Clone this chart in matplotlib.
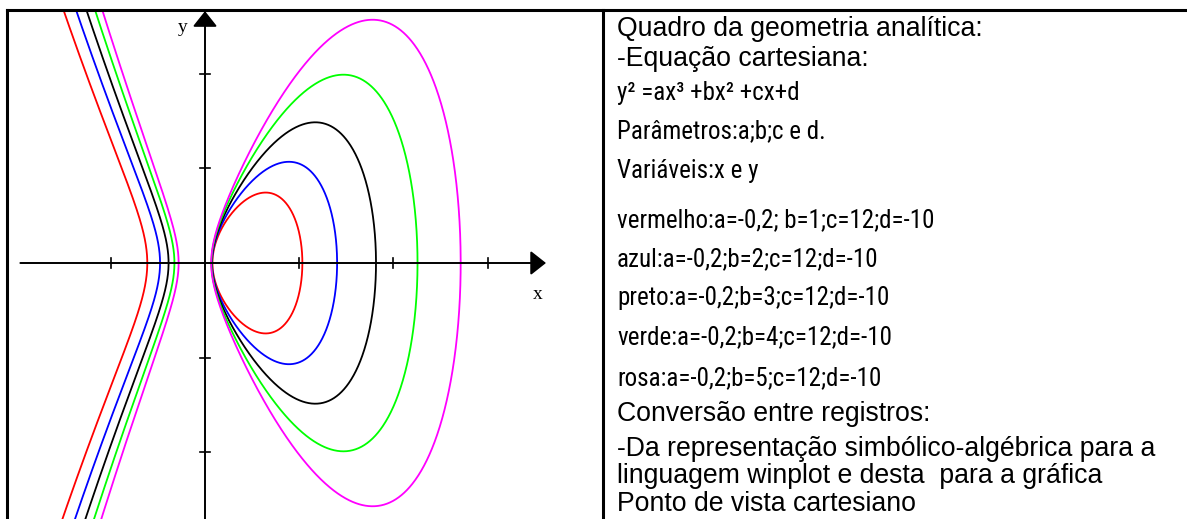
import numpy as np
import matplotlib
matplotlib.use("Agg")
import matplotlib.pyplot as plt
from matplotlib import font_manager
from matplotlib.lines import Line2D

# parameters of y^2 = a x^3 + b x^2 + c x + d (one curve per colour)
names = ["vermelho", "azul", "preto", "verde", "rosa"]
colors = ["#ff0000", "#0000ff", "#000000", "#00ff00", "#ff00ff"]
a_vals = [-0.2, -0.2, -0.2, -0.2, -0.2]
b_vals = [1, 2, 3, 4, 5]
c_vals = [12, 12, 12, 12, 12]
d_vals = [-10, -10, -10, -10, -10]

x_ticks = [-10, 10, 20, 30]
y_ticks = [-20, -10, 10, 20]

lines_text = [
    ("Quadro da geometria analítica:", "n"),
    ("-Equação cartesiana:", "n"),
    ("y² =ax³ +bx² +cx+d", "c"),
    ("Parâmetros:a;b;c e d.", "c"),
    ("Variáveis:x e y", "c"),
    ("vermelho:a=-0,2; b=1;c=12;d=-10", "c"),
    ("azul:a=-0,2;b=2;c=12;d=-10", "c"),
    ("preto:a=-0,2;b=3;c=12;d=-10", "c"),
    ("verde:a=-0,2;b=4;c=12;d=-10", "c"),
    ("rosa:a=-0,2;b=5;c=12;d=-10", "c"),
    ("Conversão entre registros:", "n"),
    ("-Da representação simbólico-algébrica para a", "n"),
    ("linguagem winplot e desta  para a gráfica", "n"),
    ("Ponto de vista cartesiano", "n"),
]
baselines = [36, 66, 100, 138, 178, 227, 266, 305, 344, 385, 421, 456, 483, 511]

W, H = 1187, 519
fig = plt.figure(figsize=(W / 100, H / 100), dpi=100)

# pixel -> data mapping of the graph window
x0px, y0px, sx, sy = 205, 263, 9.42, 9.47
L, R, T, B = 8, 603, 10, 519
ax = fig.add_axes([L / W, 0, (R - L) / W, (B - T) / H])
ax.set_xlim((L - x0px) / sx, (R - x0px) / sx)
ax.set_ylim((y0px - B) / sy, (y0px - T) / sy)
ax.axis("off")

xmin, xmax = ax.get_xlim()
ymin, ymax = ax.get_ylim()

for a, b, c, d, col in zip(a_vals, b_vals, c_vals, d_vals, colors):
    poly = np.poly1d([a, b, c, d])
    r = np.sort(np.roots([a, b, c, d]).real)
    t = np.linspace(0, np.pi, 600)
    # right oval
    xo = r[1] + (r[2] - r[1]) * (1 - np.cos(t)) / 2
    yo = np.sqrt(np.clip(poly(xo), 0, None))
    ax.plot(np.r_[xo, xo[::-1]], np.r_[yo, -yo[::-1]], color=col, lw=1.3)
    # left branch
    s = np.linspace(0, 1, 800)
    xl = r[0] - (r[0] - (xmin - 5)) * s ** 2
    yl = np.sqrt(np.clip(poly(xl), 0, None))
    ax.plot(np.r_[xl[::-1], xl], np.r_[yl[::-1], -yl], color=col, lw=1.3)

# axes with arrows
arr = dict(arrowstyle="-|>,head_length=0.95,head_width=0.75", lw=1.4,
           color="k", mutation_scale=10, shrinkA=0, shrinkB=0)
ax.annotate("", xy=(36.2, 0), xytext=(-19.6, 0), arrowprops=arr)
ax.annotate("", xy=(0, 26.6), xytext=(0, ymin), arrowprops=arr)
tk = 0.55
for xt in x_ticks:
    ax.plot([xt, xt], [-tk, tk], color="k", lw=1.2)
for yt in y_ticks:
    ax.plot([-tk * 1.05, tk * 1.05], [yt, yt], color="k", lw=1.2)
ax.text(35.3, -3.3, "x", family=["Liberation Serif", "DejaVu Serif"], fontsize=14,
        ha="center", va="center")
ax.text(-2.4, 24.9, "y", family=["Liberation Serif", "DejaVu Serif"], fontsize=14,
        ha="center", va="center")

# table borders
for xs, ys in [((7 / W, 1), (1 - 10 / H, 1 - 10 / H)),
               ((7 / W, 7 / W), (0, 1 - 10 / H)),
               ((603 / W, 603 / W), (0, 1 - 10 / H))]:
    fig.add_artist(Line2D(xs, ys, color="k", lw=2.2, solid_capstyle="projecting"))

# text column: look for a narrow sans face for the squeezed lines
normal = ["Liberation Sans", "DejaVu Sans"]
narrow_fp = None
for pref in ["Liberation Sans Narrow", "Arial Narrow", "Noto Sans Condensed",
             "Roboto Condensed", "DejaVu Sans Condensed", "Open Sans Condensed"]:
    for f in font_manager.fontManager.ttflist:
        if f.name == pref and f.style == "normal" and f.weight in (400, "normal"):
            narrow_fp = f.fname
            break
    if narrow_fp:
        break
if narrow_fp is None:
    for f in font_manager.fontManager.ttflist:
        if f.name in ("Noto Sans", "DejaVu Sans", "Open Sans", "Roboto") \
                and f.stretch == "condensed" and f.style == "normal" \
                and f.weight in (400, "normal"):
            narrow_fp = f.fname
            break

for (txt, kind), yb in zip(lines_text, baselines):
    if kind == "n":
        fig.text(617 / W, 1 - yb / H, txt, family=normal, fontsize=19.2, va="baseline")
    elif narrow_fp:
        fig.text(617 / W, 1 - yb / H, txt, fontproperties=font_manager.FontProperties(
            fname=narrow_fp, size=18), va="baseline")
    else:
        fig.text(617 / W, 1 - yb / H, txt, family=normal, fontsize=15.5, va="baseline")

fig.savefig("out.png", dpi=100)
